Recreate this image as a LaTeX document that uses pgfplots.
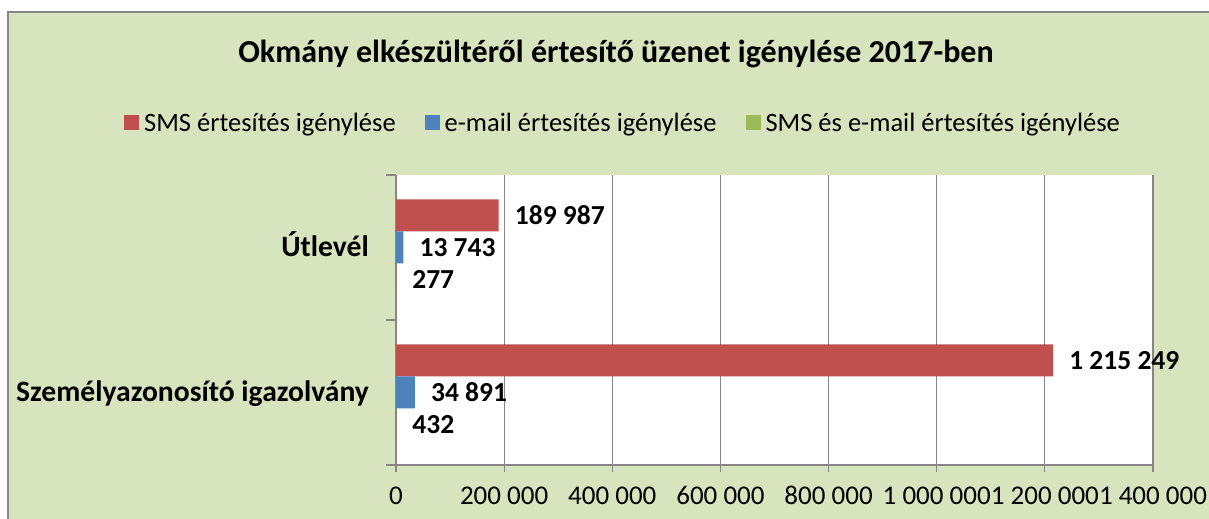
\documentclass[border=0pt]{standalone}
\usepackage{fontspec}
\setmainfont{Carlito}
\usepackage{pgfplots}
\pgfplotsset{compat=1.18}
\definecolor{bgc}{HTML}{D7E4BD}
\definecolor{cred}{HTML}{C0504D}
\definecolor{cblue}{HTML}{4F81BD}
\definecolor{cgreen}{HTML}{9BBB59}
\definecolor{axc}{HTML}{868686}
\begin{document}
\begin{tikzpicture}[x=1bp,y=1bp]
\path[use as bounding box] (0,0) rectangle (1209,519);
\fill[bgc] (8,0) rectangle (1209,507);
\draw[axc,line width=1.2bp] (8,0) -- (8,507) -- (1209,507);
\node[anchor=base,font=\fontsize{32bp}{38bp}\selectfont\bfseries] at (616,456) {Okmány elkészültéről értesítő üzenet igénylése 2017-ben};
\begin{axis}[
  at={(396bp,54bp)}, anchor=south west,
  scale only axis, width=757bp, height=290bp,
  axis background/.style={fill=white},
  xmin=0, xmax=1400000, ymin=-0.5, ymax=1.5,
  xbar, bar width=32bp,
  axis x line*=bottom, axis y line*=left,
  axis line style={axc,line width=1.2bp},
  every tick/.style={axc,line width=1.2bp},
  xtick={0,200000,400000,600000,800000,1000000,1200000,1400000},
  scaled x ticks=false,
  /pgf/number format/.cd, fixed, precision=0, 1000 sep={\ }, assume math mode=true, /pgfplots/.cd,
  xticklabel style={font=\fontsize{27bp}{32bp}\selectfont, anchor=base, yshift=-33bp, inner sep=0pt},
  xmajorgrids, major grid style={axc,line width=1.2bp},
  tick align=outside,
  major tick length=7bp,
  ytick={0,1},
  yticklabels={Személyazonosító igazolvány,Útlevél},
  ytick style={draw=none},
  yticklabel style={font=\fontsize{29.6bp}{35bp}\selectfont\bfseries, anchor=base east, inner sep=0pt, xshift=-20bp, yshift=-9.5bp},
  extra y ticks={-0.5,0.5,1.5},
  extra y tick labels={},
  extra y tick style={ytick style={draw=axc,line width=1.2bp}, major tick length=10bp, grid=none},
  point meta=explicit symbolic,
  nodes near coords,
  nodes near coords style={font=\fontsize{27.5bp}{33bp}\selectfont\bfseries, anchor=base west, inner sep=0pt, xshift=16bp, yshift=-8.8bp, text=black},
  legend columns=3,
  legend style={at={(0.2999,1.1793)}, anchor=center, draw=none, fill=none,
    font=\fontsize{26.5bp}{32bp}\selectfont,
    /tikz/every odd column/.append style={column sep=3bp},
    /tikz/every even column/.append style={column sep=27bp}},
  legend image code/.code={\fill[#1] (0bp,-7.5bp) rectangle (15bp,7.5bp);},
]
\addplot[fill=cred, draw=none, bar shift=32bp] coordinates {(1215249,0) [1\ 215\ 249] (189987,1) [189\ 987]};
\addplot[fill=cblue, draw=none, bar shift=0bp] coordinates {(34891,0) [34\ 891] (13743,1) [13\ 743]};
\addplot[fill=cgreen, draw=none, bar shift=-32bp] coordinates {(432,0) [432] (277,1) [277]};
\legend{SMS értesítés igénylése, e-mail értesítés igénylése, SMS és e-mail értesítés igénylése}
\end{axis}
\end{tikzpicture}
\end{document}
